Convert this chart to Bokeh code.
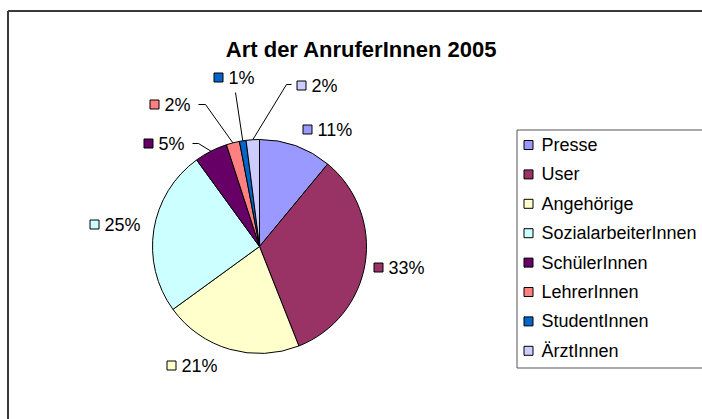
import math
from bokeh.plotting import figure
from bokeh.models import Range1d
from bokeh.embed import file_html
from bokeh.resources import INLINE
from bokeh.core.properties import value

# ---- data ----
categories = ["Presse", "User", "Angehörige", "SozialarbeiterInnen",
              "SchülerInnen", "LehrerInnen", "StudentInnen", "ÄrztInnen"]
shares = [11, 33, 21, 25, 5, 2, 1, 2]
pct_labels = [f"{v}%" for v in shares]
colors = ["#9999FF", "#993366", "#FFFFCC", "#CCFFFF",
          "#660066", "#FF8080", "#0066CC", "#CCCCFF"]
title_text = "Art der AnruferInnen 2005"

# ---- layout (page pixel coordinates) ----
W, H = 702, 419
FONT = value("Liberation Sans")
def fx(x): return x
def fy(y): return H - y

CX, CY, R = 259, 246, 107
# label swatch left x / centre y (page px)
label_pos = [(302, 129), (373, 267), (166, 365), (89, 224),
             (143, 143), (149, 104), (213, 77), (296, 85)]
# leader waypoints (page px) from label side, None = no leader
leaders = [None, None, None, None,
           [(192, 143), (198, 143)],
           [(198, 104), (205, 104)],
           [(235, 92)],
           [(291, 84), (286, 84)]]

p = figure(width=W, height=H, x_range=Range1d(0, W), y_range=Range1d(0, H),
           output_backend="svg", toolbar_location=None, min_border=0,
           x_axis_location=None, y_axis_location=None)
p.grid.visible = False
p.outline_line_color = None
p.background_fill_color = "white"
p.border_fill_color = "white"

# outer chart frame (top & left visible)
p.line(x=[fx(7.5), fx(W + 5)], y=[fy(10.5), fy(10.5)], line_color="#3a3a3a", line_width=2)
p.line(x=[fx(7.5), fx(7.5)], y=[fy(10.5), fy(H + 5)], line_color="#3a3a3a", line_width=2)

# title (centred over the whole chart area)
p.text(x=[fx(361)], y=[fy(49)], text=[title_text], text_font=FONT,
       text_font_size="22px", text_font_style="bold", text_align="center",
       text_baseline="alphabetic", text_color="black")

# pie
total = sum(shares)
starts, ends, mids = [], [], []
cum = 0
for v in shares:
    starts.append(math.pi / 2 - 2 * math.pi * cum / total)
    ends.append(math.pi / 2 - 2 * math.pi * (cum + v) / total)
    mids.append(math.pi / 2 - 2 * math.pi * (cum + v / 2) / total)
    cum += v
p.wedge(x=fx(CX), y=fy(CY), radius=R, start_angle=starts, end_angle=ends,
        direction="clock", fill_color=colors, line_color="black", line_width=1)

# leaders
for i, pts in enumerate(leaders):
    if pts is None:
        continue
    ex = fx(CX) + R * math.cos(mids[i])
    ey = fy(CY) + R * math.sin(mids[i])
    xs = [fx(a) for a, b in pts] + [ex]
    ys = [fy(b) for a, b in pts] + [ey]
    p.line(x=xs, y=ys, line_color="black", line_width=1)

# data labels
sx = [fx(a) + 5 for a, b in label_pos]
sy = [fy(b) for a, b in label_pos]
p.rect(x=sx, y=sy, width=9, height=9, fill_color=colors, line_color="black", line_width=1)
p.text(x=[fx(a) + 15 for a, b in label_pos], y=sy, text=pct_labels, text_font=FONT,
       text_font_size="18px", text_baseline="middle", text_align="left", text_color="black")

# legend (box open to the right edge, as in the cropped original)
LX0, LY0, LY1 = 516.5, 129.5, 367.5
p.line(x=[fx(W + 5), fx(LX0), fx(LX0), fx(W + 5)], y=[fy(LY0), fy(LY0), fy(LY1), fy(LY1)],
       line_color="#555555", line_width=1)
row0, step = 144.5, 29.4
ly = [fy(row0 + i * step) for i in range(len(categories))]
p.rect(x=[fx(528)] * len(categories), y=ly, width=9, height=9,
       fill_color=colors, line_color="black", line_width=1)
p.text(x=[fx(541)] * len(categories), y=ly, text=categories, text_font=FONT,
       text_font_size="18px", text_baseline="middle", text_align="left", text_color="black")

open("out.html", "w").write(file_html(p, INLINE))
